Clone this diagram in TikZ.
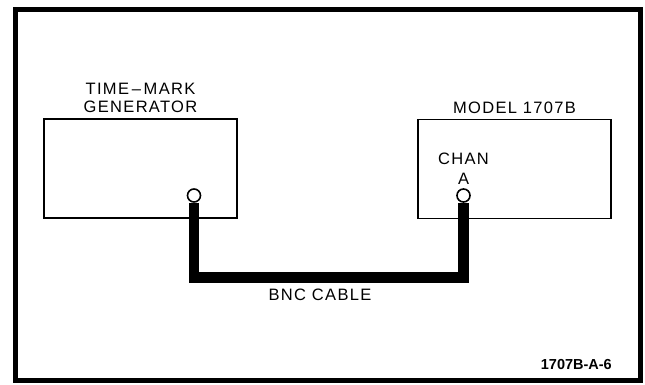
\documentclass[tikz,border=0pt]{standalone}
\usepackage{fontspec}
\setmainfont{Liberation Sans}
\newfontfamily\leroy[LetterSpace=8]{Liberation Sans}
\usetikzlibrary{positioning}

\begin{document}
\begin{tikzpicture}[x=1pt, y=-1pt,
  every node/.style={font=\leroy\fontsize{16.5}{18}\selectfont},
  unit/.style={draw, line width=1.2pt, minimum width=193pt, minimum height=99pt, inner sep=0pt},
  port/.style={draw, circle, fill=white, line width=1.6pt, minimum size=13pt, inner sep=0pt},
  lbl/.style={inner sep=0pt, align=center}]
  \useasboundingbox (0,0) rectangle (645,385);
  \draw[line width=5pt] (15,10) rectangle (640,380);

  % the two instruments
  \node[unit] (gen) at (140.5,168.5) {};
  \node[unit] (scope) at (514.5,169) {};
  \node[lbl, above=6pt of gen] (genlbl) {TIME\,–\,MARK\\GENERATOR};
  \node[lbl, above=5pt of scope] (scopelbl) {MODEL 1707B};

  % connectors
  \node[port] (genout) at (194,195.5) {};
  \node[port] (chana) at (463.5,195.5) {};
  \node[lbl, above=4pt of chana] (chanlbl) {CHAN\\[2pt]A};

  % bnc cable
  \coordinate (cabley) at (320,277.5);
  \draw[line width=10.5pt] (genout.south) -- (genout.south |- cabley)
    -- (chana.south |- cabley) -- (chana.south);
  \node[lbl, anchor=north] (cablbl) at (320,289) {BNC CABLE};

  \node[lbl, anchor=base east, font=\bfseries\fontsize{14.5}{16}\selectfont] (figno) at (612,369) {1707B-A-6};
\end{tikzpicture}
\end{document}
